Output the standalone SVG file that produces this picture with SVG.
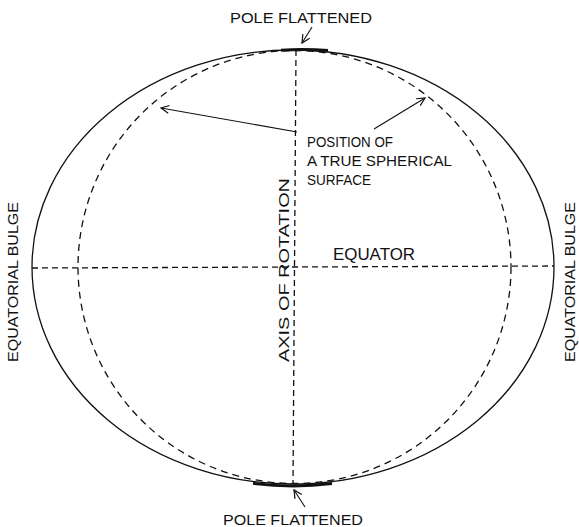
<svg xmlns="http://www.w3.org/2000/svg" width="579" height="527" viewBox="0 0 579 527">
<defs>
<style>
.t{font-family:"Liberation Sans","DejaVu Sans",sans-serif;font-size:14px;fill:#111}
.s{fill:none;stroke:#111;stroke-width:1.3}
.d{fill:none;stroke:#111;stroke-width:1.3;stroke-dasharray:7 5}
.a{fill:none;stroke:#111;stroke-width:1.1}
</style>
<marker id="ah" viewBox="0 0 10 10" refX="9" refY="5" markerWidth="10" markerHeight="10" markerUnits="userSpaceOnUse" orient="auto">
<path d="M1,1 L9,5 L1,9" fill="none" stroke="#111" stroke-width="1.2"/>
</marker>
</defs>
<rect width="579" height="527" fill="#fff"/>
<g id="earth">
<ellipse class="s" cx="293" cy="267" rx="261" ry="217"/>
<circle class="d" cx="294.5" cy="267" r="216.5"/>
<path d="M281,50.2 A261,217 0 0 1 328,50.5" fill="none" stroke="#111" stroke-width="3"/>
<path d="M253,483.3 A261,217 0 0 0 332,483.5" fill="none" stroke="#111" stroke-width="3"/>
</g>
<g id="connectors">
<line class="d" x1="296" y1="50" x2="293" y2="484" style="stroke-dasharray:6 4"/>
<line class="d" x1="32" y1="268" x2="554" y2="266" style="stroke-dasharray:6 4"/>
<line class="a" x1="312" y1="27" x2="302" y2="43" marker-end="url(#ah)"/>
<line class="a" x1="305" y1="507" x2="294" y2="490" marker-end="url(#ah)"/>
<line class="a" x1="297" y1="132" x2="161" y2="108" marker-end="url(#ah)"/>
<line class="a" x1="374" y1="129" x2="425" y2="98" marker-end="url(#ah)"/>
</g>
<g id="labels">
<text class="t" x="230" y="23" textLength="142" lengthAdjust="spacingAndGlyphs">POLE FLATTENED</text>
<text class="t" x="223" y="525" textLength="140" lengthAdjust="spacingAndGlyphs">POLE FLATTENED</text>
<text class="t" x="307" y="147" style="font-size:15px" textLength="86" lengthAdjust="spacingAndGlyphs">POSITION OF</text>
<text class="t" x="307" y="166" style="font-size:15px" textLength="145" lengthAdjust="spacingAndGlyphs">A TRUE SPHERICAL</text>
<text class="t" x="307" y="185" style="font-size:15px" textLength="64" lengthAdjust="spacingAndGlyphs">SURFACE</text>
<text class="t" x="333" y="260" style="font-size:16px" textLength="82" lengthAdjust="spacingAndGlyphs">EQUATOR</text>
<text class="t" transform="translate(289,362) rotate(-90)" style="font-size:15px" textLength="184" lengthAdjust="spacingAndGlyphs">AXIS OF ROTATION</text>
<text class="t" transform="translate(18,362) rotate(-90)" style="font-size:15px" textLength="160" lengthAdjust="spacingAndGlyphs">EQUATORIAL  BULGE</text>
<text class="t" transform="translate(575,362) rotate(-90)" style="font-size:15px" textLength="160" lengthAdjust="spacingAndGlyphs">EQUATORIAL  BULGE</text>
</g>
</svg>
